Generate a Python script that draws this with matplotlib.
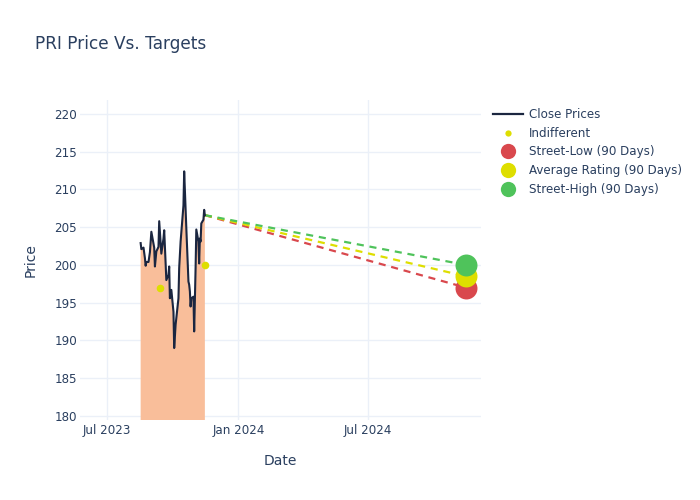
import pandas as pd
import matplotlib
matplotlib.use("Agg")
from matplotlib import pyplot as plt
import matplotlib.dates as mdates
from matplotlib.lines import Line2D

# Close prices
close_dates = [
    "2023-08-17", "2023-08-18", "2023-08-21", "2023-08-23", "2023-08-24", "2023-08-25",
    "2023-08-28", "2023-08-30", "2023-09-01", "2023-09-05", "2023-09-06", "2023-09-08",
    "2023-09-11", "2023-09-12", "2023-09-15", "2023-09-18", "2023-09-19", "2023-09-22",
    "2023-09-25", "2023-09-26", "2023-09-27", "2023-09-29", "2023-10-02", "2023-10-03",
    "2023-10-05", "2023-10-09", "2023-10-10", "2023-10-12", "2023-10-16", "2023-10-17",
    "2023-10-20", "2023-10-23", "2023-10-24", "2023-10-25", "2023-10-26", "2023-10-27",
    "2023-10-30", "2023-10-31", "2023-11-02", "2023-11-03", "2023-11-06", "2023-11-07",
    "2023-11-08", "2023-11-09", "2023-11-10", "2023-11-13", "2023-11-14", "2023-11-15",
]
close_prices = [
    202.9, 202.1, 202.3, 200.9, 199.9, 200.4,
    200.4, 201.7, 204.4, 202.3, 199.8, 201.8,
    202.4, 205.8, 201.5, 203.5, 204.6, 198.0,
    198.7, 199.8, 195.6, 196.7, 193.8, 189.0,
    192.1, 195.6, 199.6, 203.1, 207.9, 212.4,
    204.9, 197.8, 197.4, 196.5, 194.5, 195.6,
    195.8, 191.2, 199.6, 204.7, 203.1, 200.2,
    203.5, 203.1, 205.5, 206.0, 207.3, 206.6,
]

# Analyst ratings
indifferent_dates = ["2023-09-13", "2023-11-15"]
indifferent_prices = [197.0, 200.0]

# 90-day targets
target_date = "2024-11-15"
target_labels = ["Street-Low (90 Days)", "Average Rating (90 Days)", "Street-High (90 Days)"]
target_prices = [197.0, 198.5, 200.0]
target_colors = ["#d9484d", "#dede00", "#4fc35b"]

TEXT = "#2a3f5f"
GRID = "#ebf0f8"

plt.rcParams["font.family"] = ["DejaVu Sans"]

fig = plt.figure(figsize=(7, 5), dpi=100)
ax = fig.add_axes([80 / 700, 0.16, 401 / 700, 0.64])

dates = pd.to_datetime(close_dates)
ax.fill_between(dates, close_prices, 0, color="#f9be9a", lw=0, zorder=2)
ax.plot(dates, close_prices, color="#1b2640", lw=1.5, zorder=4)

last_date = dates[-1]
last_price = close_prices[-1]
tdate = pd.to_datetime(target_date)
for price, color in zip(target_prices, target_colors):
    ax.plot([last_date, tdate], [last_price, price], color=color, lw=1.6,
            dashes=(3.2, 2.6), zorder=3)
for price, color in zip(target_prices, target_colors):
    ax.scatter([tdate], [price], s=250, color=color, zorder=5, lw=0)

ax.scatter(pd.to_datetime(indifferent_dates), indifferent_prices, s=30,
           color="#dede00", zorder=5, lw=0)

ax.set_xlim(pd.Timestamp("2023-05-24"), pd.Timestamp("2024-12-06"))
ax.set_ylim(179.47, 221.85)
ax.set_yticks(range(180, 221, 5))
ax.set_xticks(pd.to_datetime(["2023-07-01", "2024-01-01", "2024-07-01"]))
ax.xaxis.set_major_formatter(mdates.DateFormatter("%b %Y"))

ax.grid(True, color=GRID, lw=1, zorder=0)
ax.set_axisbelow(True)
for s in ax.spines.values():
    s.set_visible(False)
ax.tick_params(length=0, labelsize=8.6, colors=TEXT, pad=3)
ax.tick_params(axis="y", pad=2)

ax.set_xlabel("Date", fontsize=10, color=TEXT, labelpad=12)
ax.set_ylabel("Price", fontsize=10, color=TEXT, labelpad=12)

fig.text(35 / 700, 1 - 44 / 500, "PRI Price Vs. Targets", fontsize=12.2,
         color=TEXT, va="center", ha="left")

handles = [
    Line2D([], [], color="#1b2640", lw=1.6),
    Line2D([], [], ls="", marker="o", color="#dede00", markersize=4.5, mew=0),
]
for color in target_colors:
    handles.append(Line2D([], [], ls="", marker="o", color=color, markersize=11, mew=0))
labels = ["Close Prices", "Indifferent"] + target_labels
leg = fig.legend(handles, labels, loc="upper left", bbox_to_anchor=(493 / 700, 1 - 108 / 500),
                 frameon=False, fontsize=8.6, handlelength=2.5, handletextpad=0.5,
                 labelspacing=0.48, borderaxespad=0, borderpad=0)
for t in leg.get_texts():
    t.set_color(TEXT)

fig.savefig("out.png", dpi=100)
